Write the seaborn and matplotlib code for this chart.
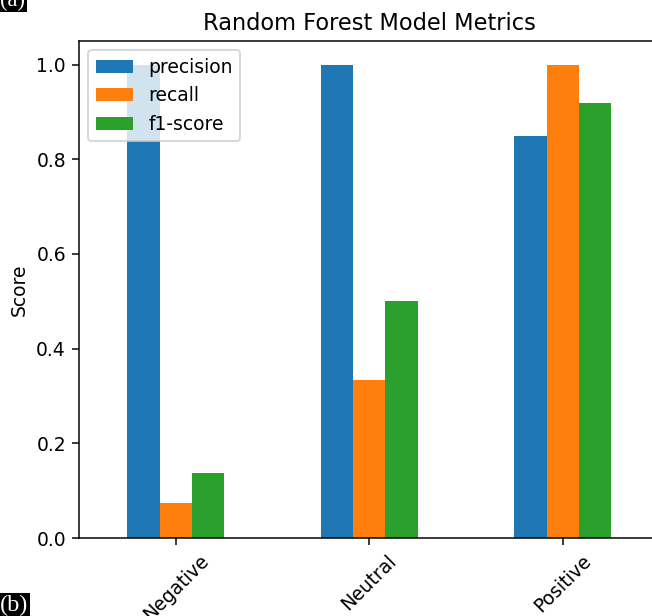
import numpy as np
import pandas as pd
import matplotlib
matplotlib.use('Agg')
import matplotlib.pyplot as plt
import seaborn as sns

# class report values of the random forest model
classes = ['Negative', 'Neutral', 'Positive']
metrics = ['precision', 'recall', 'f1-score']
precision = [1.00, 1.00, 0.85]
recall = [0.074, 0.333, 1.00]
f1_score = [0.138, 0.50, 0.918]

colors = ['#1f77b4', '#ff7f0e', '#2ca02c']

df = pd.DataFrame({'class': classes, 'precision': precision,
                   'recall': recall, 'f1-score': f1_score})
df_long = df.melt(id_vars='class', var_name='metric', value_name='score')

###################################################

dpi = 135
fig = plt.figure(figsize=(652 / dpi, 616 / dpi), dpi=dpi)
ax = fig.add_axes([79 / 652, 78 / 616, 580.5 / 652, 497 / 616])

sns.barplot(data=df_long, x='class', y='score', hue='metric', order=classes,
            hue_order=metrics, palette=colors, width=0.5, saturation=1,
            errorbar=None, linewidth=0, ax=ax)

handles, labels = ax.get_legend_handles_labels()
ax.legend(handles, labels, loc='upper left')

ax.set_xlim(-0.5, 2.5)
ax.set_ylim(0, 1.05)
ax.set_xlabel('')
ax.set_ylabel('Score')
ax.set_title('Random Forest Model Metrics', fontsize=12)
plt.setp(ax.get_xticklabels(), rotation=45)

# panel markers from the source figure
fig.text(0.0, 1.0, '(a)', family='Liberation Serif', fontsize=12, color='white',
         va='center', ha='left', bbox=dict(facecolor='black', edgecolor='none', pad=1))
fig.text(0.0, 0.0, '(b)', family='Liberation Serif', fontsize=13, color='white',
         va='bottom', ha='left', bbox=dict(facecolor='black', edgecolor='none', pad=1))

fig.savefig('out.png', dpi=dpi)
plt.close()
